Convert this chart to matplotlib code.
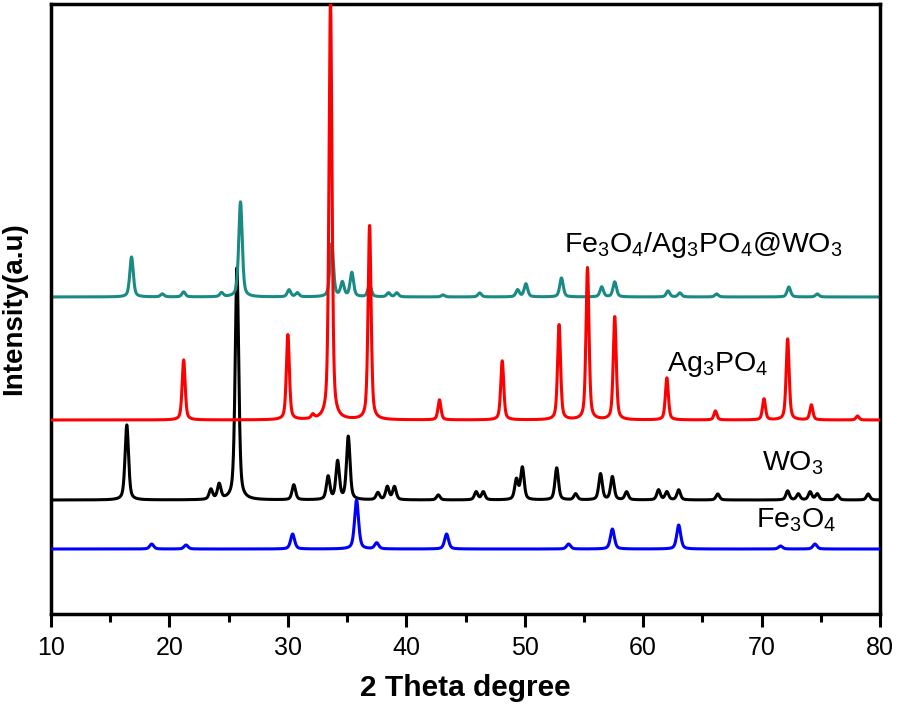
import numpy as np
import matplotlib
matplotlib.use("Agg")
import matplotlib.pyplot as plt

plt.rcParams['font.family'] = ['Liberation Sans', 'DejaVu Sans']
plt.rcParams['mathtext.fontset'] = 'custom'
plt.rcParams['mathtext.rm'] = 'Liberation Sans'

# peak lists: 2-theta position, peak height (arb.)
fe3o4_pos = [18.5, 21.4, 30.4, 35.8, 37.5, 43.4, 53.7, 57.4, 63.0, 71.6, 74.5]
fe3o4_h   = [5, 4, 15, 49, 6, 15, 5, 20, 24, 3, 5]

wo3_pos = [16.4, 23.5, 24.2, 25.7, 30.5, 33.4, 34.2, 35.1, 37.6, 38.4, 39.0, 42.7,
           45.9, 46.5, 49.3, 49.8, 52.7, 54.3, 56.4, 57.4, 58.6, 61.3, 62.0, 63.0,
           66.3, 72.2, 73.1, 74.1, 74.7, 76.4, 79.0]
wo3_h   = [75, 10, 15, 232, 15, 23, 38, 63, 7, 13, 13, 5,
           8, 8, 20, 32, 32, 6, 26, 23, 8, 10, 8, 10,
           6, 9, 6, 8, 6, 5, 6]

ag3po4_pos = [21.2, 30.0, 32.1, 33.6, 36.9, 42.8, 48.1, 52.9, 55.3, 57.6,
              62.0, 66.1, 70.2, 72.2, 74.2, 78.1]
ag3po4_h   = [60, 85, 4, 420, 194, 20, 59, 95, 152, 103,
              42, 9, 21, 81, 15, 4]

comp_pos = [16.8, 19.4, 21.2, 24.4, 26.0, 30.1, 30.8, 33.7, 34.6, 35.4, 36.9,
            38.5, 39.2, 43.1, 46.2, 49.4, 50.1, 53.1, 56.5, 57.6, 62.1, 63.1,
            66.2, 72.3, 74.7]
comp_h   = [40, 3, 5, 4, 95, 7, 4, 53, 14, 24, 12,
            4, 4, 2, 4, 7, 13, 19, 10, 15, 6, 4,
            3, 10, 3]

offsets = {'Fe3O4': 65, 'WO3': 114, 'Ag3PO4': 194, 'comp': 317}
colors = {'Fe3O4': '#0000ff', 'WO3': '#000000', 'Ag3PO4': '#ff0000', 'comp': '#1a8a84'}

two_theta = np.linspace(10, 80, 3501)


def pattern(pos, h, fwhm=0.32):
    y = np.zeros_like(two_theta)
    g = fwhm / 2
    for p, a in zip(pos, h):
        lor = g**2 / ((two_theta - p)**2 + g**2)
        gau = np.exp(-np.log(2) * ((two_theta - p) / g)**2)
        y += a * (0.5 * lor + 0.5 * gau)
    return y


fig = plt.figure(figsize=(8.98, 7.07), dpi=100)
ax = fig.add_axes([0.0568, 0.1315, 0.9232, 0.863])

ax.plot(two_theta, offsets['comp'] + pattern(comp_pos, comp_h, 0.35), color=colors['comp'], lw=2.2, zorder=2)
ax.plot(two_theta, offsets['Ag3PO4'] + pattern(ag3po4_pos, ag3po4_h, 0.3), color=colors['Ag3PO4'], lw=2.2, zorder=3)
ax.plot(two_theta, offsets['WO3'] + pattern(wo3_pos, wo3_h, 0.35), color=colors['WO3'], lw=2.2, zorder=1)
ax.plot(two_theta, offsets['Fe3O4'] + pattern(fe3o4_pos, fe3o4_h, 0.4), color=colors['Fe3O4'], lw=2.2, zorder=4)

ax.set_xlim(10, 80)
ax.set_ylim(0, 610)
ax.set_yticks([])
ax.set_xticks(np.arange(10, 81, 10))
ax.set_xticks(np.arange(15, 80, 10), minor=True)
ax.tick_params(axis='x', which='major', direction='out', length=9, width=2.2, labelsize=18, pad=7)
ax.tick_params(axis='x', which='minor', direction='out', length=6, width=2.2)
for s in ax.spines.values():
    s.set_linewidth(2.5)

ax.set_xlabel('2 Theta degree', fontsize=21.5, fontweight='bold', labelpad=10)
ax.set_ylabel('Intensity(a.u)', fontsize=20, fontweight='bold', labelpad=17)

ax.text(65.1, 369, r'Fe$_3$O$_4$/Ag$_3$PO$_4$@WO$_3$', fontsize=20.5, ha='center', va='center')
ax.text(66.3, 249, r'Ag$_3$PO$_4$', fontsize=20.5, ha='center', va='center')
ax.text(72.6, 151, r'WO$_3$', fontsize=20.5, ha='center', va='center')
ax.text(72.9, 94, r'Fe$_3$O$_4$', fontsize=20.5, ha='center', va='center')

fig.savefig('out.png', dpi=100)
